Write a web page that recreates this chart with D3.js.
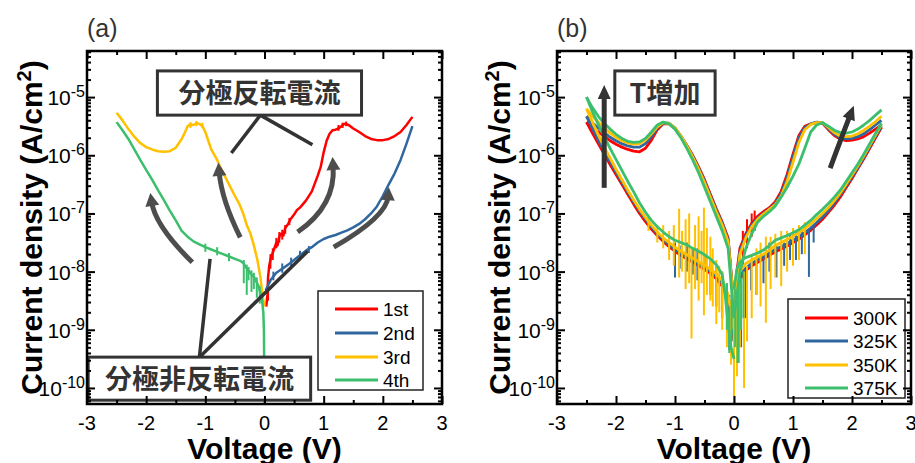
<!DOCTYPE html>
<html><head><meta charset="utf-8">
<script src="https://cdn.jsdelivr.net/npm/d3@7"></script>
<style>
body{margin:0;background:#fff}
svg{display:block}
text{font-family:"Liberation Sans",Arial,sans-serif}
.cjk{font-family:"Noto Sans CJK JP","Noto Sans CJK SC",sans-serif;font-weight:700}
</style>
</head><body>
<svg id="c" width="915" height="463"></svg>
<script>
// ---------------- axes / labels ----------------
const xTicks = [-3, -2, -1, 0, 1, 2, 3];
const xMinorTicks = [-2.5, -1.5, -0.5, 0.5, 1.5, 2.5];
const yTicks = [1e-10, 1e-9, 1e-8, 1e-7, 1e-6, 1e-5];
const yTickExp = ["-10", "-9", "-8", "-7", "-6", "-5"];
const yDomain = [5.3e-11, 6.2e-5];
const xDomain = [-3, 3];
const colors = ["#ff0000", "#30679f", "#ffc000", "#3cbf6c"];
const legendA = ["1st", "2nd", "3rd", "4th"];
const legendB = ["300K", "325K", "350K", "375K"];

// ---------------- panel (a): log10 of current density ----------------
const V_1st = [0.03,0.05,0.06,0.08,0.1,0.13,0.16,0.2,0.22,0.25,0.28,0.32,0.35,0.4,0.44,0.5,0.55,0.6,0.7,0.8,0.9,0.95,1.0,1.05,1.1,1.15,1.2,1.25,1.3,1.35,1.4,1.45,1.5,1.6,1.7,1.8,1.9,2.0,2.1,2.2,2.3,2.4,2.5];
const J_1st = [-8.6,-8.4,-8.1,-7.9,-7.8,-7.7,-7.62,-7.5,-7.55,-7.4,-7.35,-7.38,-7.25,-7.18,-7.1,-7.02,-6.94,-6.9,-6.78,-6.62,-6.35,-6.2,-5.95,-5.75,-5.63,-5.57,-5.56,-5.54,-5.5,-5.46,-5.47,-5.5,-5.54,-5.6,-5.67,-5.72,-5.74,-5.74,-5.72,-5.67,-5.6,-5.48,-5.34];
const V_2nd = [0.02,0.1,0.2,0.3,0.4,0.5,0.6,0.7,0.8,0.9,1.0,1.1,1.2,1.3,1.4,1.5,1.6,1.7,1.8,1.9,2.0,2.1,2.2,2.3,2.4,2.5];
const J_2nd = [-8.32,-8.15,-8.02,-7.95,-7.88,-7.8,-7.72,-7.64,-7.58,-7.5,-7.44,-7.4,-7.37,-7.33,-7.29,-7.24,-7.18,-7.1,-7.0,-6.88,-6.7,-6.5,-6.31,-6.08,-5.8,-5.5];
const V_3rd = [0,-0.03,-0.07,-0.12,-0.18,-0.24,-0.3,-0.36,-0.42,-0.5,-0.6,-0.7,-0.75,-0.8,-0.9,-0.95,-1.0,-1.05,-1.1,-1.15,-1.2,-1.25,-1.3,-1.35,-1.4,-1.5,-1.6,-1.7,-1.8,-1.9,-2.0,-2.1,-2.2,-2.3,-2.4,-2.5];
const J_3rd = [-8.6,-8.43,-8.09,-7.8,-7.55,-7.34,-7.2,-7.0,-6.85,-6.7,-6.5,-6.3,-6.2,-6.08,-5.9,-5.75,-5.6,-5.5,-5.46,-5.45,-5.48,-5.47,-5.5,-5.62,-5.72,-5.87,-5.93,-5.94,-5.93,-5.9,-5.86,-5.79,-5.68,-5.55,-5.4,-5.27];
const V_4th = [0,-0.01,-0.02,-0.04,-0.07,-0.1,-0.15,-0.18,-0.22,-0.27,-0.32,-0.36,-0.4,-0.5,-0.6,-0.7,-0.8,-0.9,-1.0,-1.1,-1.2,-1.3,-1.4,-1.5,-1.6,-1.7,-1.8,-1.9,-2.0,-2.1,-2.2,-2.3,-2.4,-2.5];
const J_4th = [-10.3,-9.0,-8.7,-8.5,-8.37,-8.25,-8.15,-8.09,-8.05,-7.98,-7.92,-7.85,-7.82,-7.78,-7.74,-7.7,-7.66,-7.62,-7.58,-7.53,-7.48,-7.4,-7.3,-7.12,-6.95,-6.77,-6.6,-6.42,-6.25,-6.08,-5.9,-5.72,-5.57,-5.43];
// noise spikes [V, log10 J low, log10 J high]
const spikes_1st = [[0.06,-8.5,-8.1],[0.1,-7.95,-7.7],[0.14,-7.8,-7.6],[0.2,-7.6,-7.42],[0.25,-7.5,-7.32],[0.3,-7.45,-7.28],[0.35,-7.35,-7.2],[0.42,-7.2,-7.08],[1.25,-5.58,-5.48],[1.32,-5.53,-5.44],[1.38,-5.5,-5.42]];
const spikes_2nd = [[0.15,-8.15,-8.0],[0.3,-8.02,-7.86],[0.45,-7.92,-7.76],[0.6,-7.78,-7.64],[0.75,-7.68,-7.56]];
const spikes_3rd = [[-1.25,-5.53,-5.43],[-1.15,-5.5,-5.41],[-1.05,-5.53,-5.44]];
const spikes_4th = [[-0.35,-8.2,-7.8],[-0.3,-8.4,-7.88],[-0.27,-8.15,-7.92],[-0.22,-8.35,-7.98],[-0.18,-8.3,-8.02],[-0.13,-8.45,-8.1],[-0.08,-8.55,-8.25],[-0.6,-7.82,-7.68],[-0.8,-7.72,-7.58],[-1.0,-7.66,-7.52]];

// ---------------- panel (b): log10 of current density ----------------
const V_upNeg = [0,-0.1,-0.2,-0.3,-0.4,-0.5,-0.6,-0.7,-0.8,-0.9,-1.0,-1.1,-1.2,-1.3,-1.4,-1.5,-1.6,-1.7,-1.8,-1.9,-2.0,-2.1,-2.2,-2.3,-2.4,-2.5];
const V_loNeg = [-2.5,-2.4,-2.3,-2.2,-2.1,-2.0,-1.9,-1.8,-1.7,-1.6,-1.5,-1.4,-1.3,-1.2,-1.1,-1.0,-0.9,-0.8,-0.7,-0.6,-0.5,-0.4,-0.3,-0.2,-0.15,-0.1,-0.05,0];
const V_upPos = [0,0.1,0.2,0.3,0.4,0.5,0.6,0.7,0.8,0.9,1.0,1.1,1.2,1.3,1.4,1.5,1.6,1.7,1.8,1.9,2.0,2.1,2.2,2.3,2.4,2.5];
const V_loPos = [2.5,2.4,2.3,2.2,2.1,2.0,1.9,1.8,1.7,1.6,1.5,1.4,1.3,1.2,1.1,1.0,0.9,0.8,0.7,0.6,0.5,0.4,0.3,0.2,0.15,0.1,0.05,0];

const J300_upNeg = [-8.6,-7.42,-7.15,-6.92,-6.67,-6.42,-6.2,-6.0,-5.83,-5.68,-5.54,-5.46,-5.46,-5.56,-5.74,-5.88,-5.94,-5.93,-5.9,-5.86,-5.81,-5.75,-5.67,-5.6,-5.52,-5.43];
const J325_upNeg = [-8.6,-7.45,-7.17,-6.94,-6.69,-6.44,-6.22,-6.01,-5.83,-5.67,-5.53,-5.45,-5.45,-5.53,-5.68,-5.8,-5.86,-5.86,-5.84,-5.8,-5.75,-5.69,-5.61,-5.53,-5.44,-5.33];
const J350_upNeg = [-8.6,-7.48,-7.2,-6.97,-6.72,-6.47,-6.24,-6.03,-5.84,-5.67,-5.53,-5.45,-5.44,-5.51,-5.63,-5.74,-5.8,-5.81,-5.79,-5.75,-5.69,-5.62,-5.53,-5.43,-5.33,-5.2];
const J375_upNeg = [-8.8,-7.6,-7.3,-7.05,-6.8,-6.55,-6.3,-6.08,-5.88,-5.7,-5.55,-5.46,-5.43,-5.48,-5.6,-5.71,-5.77,-5.78,-5.76,-5.71,-5.64,-5.55,-5.45,-5.33,-5.18,-5.0];

const J300_loNeg = [-5.43,-5.62,-5.8,-5.98,-6.16,-6.33,-6.5,-6.67,-6.84,-7.0,-7.14,-7.27,-7.38,-7.48,-7.57,-7.65,-7.72,-7.78,-7.84,-7.9,-7.96,-8.03,-8.12,-8.25,-8.35,-8.5,-8.8,-9.2];
const J325_loNeg = [-5.33,-5.54,-5.74,-5.93,-6.11,-6.29,-6.46,-6.63,-6.8,-6.96,-7.1,-7.23,-7.35,-7.45,-7.54,-7.62,-7.69,-7.75,-7.81,-7.87,-7.93,-8.0,-8.08,-8.2,-8.3,-8.45,-8.75,-9.1];
const J350_loNeg = [-5.2,-5.43,-5.65,-5.86,-6.05,-6.24,-6.42,-6.6,-6.77,-6.93,-7.07,-7.2,-7.32,-7.42,-7.5,-7.58,-7.65,-7.71,-7.77,-7.83,-7.89,-7.96,-8.04,-8.15,-8.25,-8.4,-8.7,-9.0];
const J375_loNeg = [-5.0,-5.25,-5.47,-5.68,-5.88,-6.07,-6.26,-6.45,-6.63,-6.82,-6.98,-7.12,-7.23,-7.32,-7.4,-7.46,-7.5,-7.54,-7.6,-7.65,-7.71,-7.78,-7.88,-8.05,-8.4,-8.9,-9.3,-9.5];

const J300_upPos = [-8.4,-7.6,-7.35,-7.17,-7.05,-6.97,-6.9,-6.8,-6.62,-6.33,-5.98,-5.66,-5.5,-5.46,-5.44,-5.45,-5.56,-5.66,-5.72,-5.75,-5.74,-5.72,-5.68,-5.62,-5.55,-5.48];
const J325_upPos = [-8.5,-7.65,-7.38,-7.2,-7.08,-7.0,-6.92,-6.83,-6.66,-6.38,-6.03,-5.7,-5.52,-5.46,-5.43,-5.44,-5.54,-5.64,-5.7,-5.72,-5.71,-5.68,-5.63,-5.56,-5.48,-5.4];
const J350_upPos = [-8.6,-7.7,-7.42,-7.23,-7.1,-7.01,-6.93,-6.85,-6.7,-6.45,-6.12,-5.78,-5.56,-5.47,-5.44,-5.44,-5.52,-5.61,-5.67,-5.68,-5.67,-5.63,-5.57,-5.5,-5.42,-5.33];
const J375_upPos = [-8.8,-8.0,-7.6,-7.35,-7.15,-7.05,-6.97,-6.87,-6.72,-6.55,-6.36,-6.15,-5.88,-5.6,-5.48,-5.44,-5.5,-5.57,-5.61,-5.62,-5.6,-5.55,-5.48,-5.4,-5.31,-5.22];

const J300_loPos = [-5.52,-5.7,-5.88,-6.06,-6.23,-6.4,-6.56,-6.72,-6.86,-6.98,-7.1,-7.2,-7.29,-7.37,-7.44,-7.5,-7.56,-7.61,-7.66,-7.72,-7.78,-7.84,-7.9,-7.98,-8.05,-8.15,-8.35,-8.7];
const J325_loPos = [-5.5,-5.68,-5.86,-6.04,-6.21,-6.37,-6.53,-6.68,-6.82,-6.95,-7.06,-7.16,-7.25,-7.33,-7.4,-7.46,-7.52,-7.57,-7.62,-7.68,-7.74,-7.8,-7.86,-7.94,-8.0,-8.1,-8.3,-8.6];
const J350_loPos = [-5.47,-5.65,-5.83,-6.01,-6.18,-6.34,-6.5,-6.65,-6.78,-6.9,-7.0,-7.09,-7.18,-7.26,-7.33,-7.39,-7.45,-7.5,-7.55,-7.63,-7.7,-7.75,-7.8,-7.86,-7.92,-8.0,-8.2,-8.5];
const J375_loPos = [-5.45,-5.62,-5.8,-5.98,-6.15,-6.3,-6.45,-6.6,-6.72,-6.83,-6.93,-7.02,-7.12,-7.2,-7.28,-7.33,-7.38,-7.42,-7.46,-7.55,-7.63,-7.68,-7.72,-7.76,-7.79,-7.84,-7.95,-8.3];

const spikes_300K = [[-0.05,-9.0,-8.5],[0.0,-10.3,-8.6],[0.05,-9.0,-8.3],[0.15,-7.9,-7.3],[0.22,-7.6,-7.1],[0.3,-7.4,-7.0],[0.35,-7.3,-6.95]];
const spikes_325K = [[-1.0,-8.1,-7.5],[-0.92,-7.95,-7.55],[-0.8,-8.0,-7.5],[-0.7,-8.05,-7.6],[-0.62,-8.15,-7.6],[-0.5,-8.0,-7.7],[-0.4,-8.4,-7.8],[-0.3,-8.6,-7.9],[-0.2,-8.8,-8.0],[-0.12,-9.0,-8.2],[-0.08,-9.35,-8.4],[-0.03,-9.0,-8.5],[0.05,-9.2,-8.4],[0.12,-9.3,-8.2],[0.2,-8.8,-8.0],[0.29,-8.32,-7.9],[0.38,-8.4,-7.8],[0.5,-8.2,-7.7],[0.6,-8.0,-7.5],[0.72,-8.1,-7.55],[0.85,-7.9,-7.5],[0.95,-7.8,-7.35],[1.05,-7.8,-7.3],[1.15,-7.7,-7.3],[1.27,-8.09,-7.3],[1.35,-7.5,-7.2]];
const spikes_350K = [[-1.45,-7.3,-7.05],[-1.3,-7.5,-7.2],[-1.2,-7.6,-7.2],[-1.1,-7.8,-7.3],[-1.02,-7.9,-7.2],[-0.93,-8.1,-6.92],[-0.88,-8.0,-7.3],[-0.82,-8.3,-7.1],[-0.76,-8.2,-7.0],[-0.72,-9.15,-7.6],[-0.66,-8.3,-7.2],[-0.6,-8.5,-7.05],[-0.55,-8.2,-7.3],[-0.51,-8.75,-6.9],[-0.46,-8.4,-7.25],[-0.4,-8.5,-7.4],[-0.36,-8.6,-7.6],[-0.3,-8.9,-7.8],[-0.25,-8.7,-7.9],[-0.2,-9.0,-8.0],[-0.12,-9.3,-8.2],[-0.05,-9.6,-8.5],[0.0,-10.3,-8.6],[0.05,-9.8,-8.4],[0.1,-9.3,-8.2],[0.17,-10.0,-8.0],[0.22,-9.2,-7.9],[0.3,-8.8,-7.7],[0.38,-8.4,-7.6],[0.45,-8.6,-7.5],[0.54,-8.88,-7.4],[0.62,-8.3,-7.4],[0.7,-8.1,-7.35],[0.8,-8.25,-7.3],[0.9,-8.0,-7.3],[1.0,-7.9,-7.25],[1.1,-7.8,-7.2],[1.2,-7.7,-7.15]];
const spikes_375K = [[-0.12,-9.0,-8.2],[-0.08,-9.4,-8.6],[-0.04,-9.2,-8.4],[0.02,-9.3,-8.3],[0.06,-9.57,-8.5],[0.08,-9.57,-8.2],[0.12,-9.0,-8.1],[0.16,-8.8,-8.0]];

// ---------------- annotations (data coordinates: V, log10 J) ----------------
const arrowsA = [
  [[-1.22,-7.84],[-1.71,-7.23],[-1.93,-6.65]],
  [[-0.41,-7.41],[-0.66,-6.77],[-0.78,-6.13]],
  [[0.56,-7.32],[1.03,-6.77],[1.15,-6.03]],
  [[1.17,-7.58],[1.85,-7.06],[2.1,-6.55]]
];
const arrowsB = [
  [[-2.2,-6.56],[-2.2,-5.7],[-2.2,-4.79]],
  [[1.63,-6.22],[1.83,-5.68],[2.03,-5.15]]
];
const boxesA = [
  {text:"分極反転電流", v0:-1.81, v1:1.64, j0:-5.31, j1:-4.55,
   from:[-0.07,-5.31], to:[[-0.56,-5.96],[0.81,-5.82]]},
  {text:"分極非反転電流", v0:-2.98, v1:0.78, j0:-10.21, j1:-9.47,
   from:[-1.1,-9.47], to:[[-0.92,-7.78],[0.73,-7.65]]}
];
const boxesB = [
  {text:"T増加", v0:-2.02, v1:-0.32, j0:-5.31, j1:-4.55, from:null, to:[]}
];

// ---------------- drawing ----------------
const svg = d3.select("#c");
const P10 = v => Math.pow(10, v);

function makePanel(L, R, T, B, id, ylabX, tag) {
  const x = d3.scaleLinear().domain(xDomain).range([L, R]);
  const y = d3.scaleLog().domain(yDomain).range([B, T]);
  const g = svg.append("g");
  svg.append("clipPath").attr("id", id).append("rect")
    .attr("x", L).attr("y", T).attr("width", R - L).attr("height", B - T);
  const plot = g.append("g").attr("clip-path", `url(#${id})`);
  const top = g.append("g");
  g.append("text").attr("x", L).attr("y", 37).attr("fill", "#333")
    .style("font-size", "25px").text(tag);
  const minorY = y.ticks().filter(v => !yTicks.some(t => Math.abs(Math.log10(v) - Math.log10(t)) < 1e-6));
  const axes = [
    [d3.axisBottom(x).tickValues(xTicks).tickSize(-8), `translate(0,${B})`],
    [d3.axisBottom(x).tickValues(xMinorTicks).tickSize(-4), `translate(0,${B})`],
    [d3.axisTop(x).tickValues(xTicks).tickSize(-8), `translate(0,${T})`],
    [d3.axisTop(x).tickValues(xMinorTicks).tickSize(-4), `translate(0,${T})`],
    [d3.axisLeft(y).tickValues(yTicks).tickSize(-8), `translate(${L},0)`],
    [d3.axisLeft(y).tickValues(minorY).tickSize(-4), `translate(${L},0)`],
    [d3.axisRight(y).tickValues(yTicks).tickSize(-8), `translate(${R},0)`],
    [d3.axisRight(y).tickValues(minorY).tickSize(-4), `translate(${R},0)`]
  ];
  const axG = g.append("g");
  axes.forEach(([ax, tr]) => {
    const a = axG.append("g").attr("transform", tr).call(ax.tickFormat(""));
    a.select(".domain").remove();
    a.selectAll("line").attr("stroke", "#000").attr("stroke-width", 2);
  });
  xTicks.forEach(t => {
    g.append("text").attr("x", x(t)).attr("y", 430).attr("text-anchor", "middle")
      .style("font-size", "20px").text(t < 0 ? "-" + Math.abs(t) : String(t));
  });
  yTicks.forEach((t, i) => {
    const tx = g.append("text").attr("x", L - 2).attr("y", y(t) + 8)
      .attr("text-anchor", "end").style("font-size", "21px");
    tx.append("tspan").text("10");
    tx.append("tspan").attr("dy", -8).style("font-size", "16px").text(yTickExp[i]);
  });
  g.append("rect").attr("x", L).attr("y", T).attr("width", R - L).attr("height", B - T)
    .attr("fill", "none").attr("stroke", "#000").attr("stroke-width", 2.5);
  g.append("text").attr("x", (L + R) / 2).attr("y", 459).attr("text-anchor", "middle")
    .style("font-size", "30px").style("font-weight", "bold").text("Voltage (V)");
  const yl = g.append("text").attr("transform", `translate(${ylabX},${(T + B) / 2}) rotate(-90)`)
    .attr("text-anchor", "middle").style("font-size", "30px").style("font-weight", "bold");
  yl.append("tspan").text("Current density (A/cm");
  yl.append("tspan").attr("dy", -11).style("font-size", "20px").text("2");
  yl.append("tspan").attr("dy", 11).text(")");
  return {x, y, g, plot, top};
}

function drawCurve(p, V, J, color, w) {
  const line = d3.line().x(d => p.x(d[0])).y(d => p.y(P10(d[1])));
  p.plot.append("path").datum(d3.zip(V, J)).attr("d", line)
    .attr("fill", "none").attr("stroke", color).attr("stroke-width", w)
    .attr("stroke-linejoin", "round");
}
function drawSpikes(p, S, color, w) {
  p.plot.selectAll(null).data(S).enter().append("line")
    .attr("x1", d => p.x(d[0])).attr("x2", d => p.x(d[0]))
    .attr("y1", d => p.y(P10(d[1]))).attr("y2", d => p.y(P10(d[2])))
    .attr("stroke", color).attr("stroke-width", w);
}
function drawArrow(p, a, col, sw, hl, hw) {
  const Pt = a.map(d => [p.x(d[0]), p.y(P10(d[1]))]);
  const [Ta, M, E] = Pt;
  const C = [2 * M[0] - (Ta[0] + E[0]) / 2, 2 * M[1] - (Ta[1] + E[1]) / 2];
  let dx = E[0] - C[0], dy = E[1] - C[1];
  const Ln = Math.hypot(dx, dy); dx /= Ln; dy /= Ln;
  const S = [E[0] - dx * hl * 0.7, E[1] - dy * hl * 0.7];
  p.top.append("path").attr("d", `M${Ta[0]},${Ta[1]}Q${C[0]},${C[1]} ${S[0]},${S[1]}`)
    .attr("fill", "none").attr("stroke", col).attr("stroke-width", sw);
  const Bp = [E[0] - dx * hl, E[1] - dy * hl], nx = -dy, ny = dx;
  p.top.append("path")
    .attr("d", `M${E[0]},${E[1]}L${Bp[0] + nx * hw / 2},${Bp[1] + ny * hw / 2}L${Bp[0] - nx * hw / 2},${Bp[1] - ny * hw / 2}Z`)
    .attr("fill", col);
}
function drawBox(p, b) {
  if (b.from) {
    b.to.forEach(t => {
      p.top.append("line")
        .attr("x1", p.x(b.from[0])).attr("y1", p.y(P10(b.from[1])))
        .attr("x2", p.x(t[0])).attr("y2", p.y(P10(t[1])))
        .attr("stroke", "#333").attr("stroke-width", 3.5);
    });
  }
  const x0 = p.x(b.v0), x1 = p.x(b.v1), y0 = p.y(P10(b.j1)), y1 = p.y(P10(b.j0));
  p.top.append("rect").attr("x", x0).attr("y", y0).attr("width", x1 - x0).attr("height", y1 - y0)
    .attr("fill", "#fff").attr("stroke", "#333").attr("stroke-width", 3);
  p.top.append("text").attr("class", "cjk").attr("x", (x0 + x1) / 2).attr("y", (y0 + y1) / 2 + 10)
    .attr("text-anchor", "middle").attr("fill", "#333").style("font-size", "27px").text(b.text);
}
function drawLegend(p, bx, by, bw, bh, names, rows) {
  p.top.append("rect").attr("x", bx).attr("y", by).attr("width", bw).attr("height", bh)
    .attr("fill", "#fff").attr("stroke", "#222").attr("stroke-width", 1.5);
  names.forEach((n, i) => {
    const yy = rows[i];
    p.top.append("line").attr("x1", bx + 17).attr("x2", bx + 60).attr("y1", yy).attr("y2", yy)
      .attr("stroke", colors[i]).attr("stroke-width", 3);
    p.top.append("text").attr("x", bx + 65).attr("y", yy + 7).style("font-size", "19px").text(n);
  });
}

// panel (a)
const pa = makePanel(87, 442, 51, 404, "clipA", 42, "(a)");
drawCurve(pa, V_1st, J_1st, colors[0], 2.5); drawSpikes(pa, spikes_1st, colors[0], 2);
drawCurve(pa, V_2nd, J_2nd, colors[1], 2.5); drawSpikes(pa, spikes_2nd, colors[1], 2);
drawCurve(pa, V_3rd, J_3rd, colors[2], 2.5); drawSpikes(pa, spikes_3rd, colors[2], 2);
drawCurve(pa, V_4th, J_4th, colors[3], 2.5); drawSpikes(pa, spikes_4th, colors[3], 2);
arrowsA.forEach(a => drawArrow(pa, a, "#4d4d4d", 5, 13, 14));
boxesA.forEach(b => drawBox(pa, b));
drawLegend(pa, 318, 291, 105, 99, legendA, [309, 333, 357, 380]);

// panel (b)
const pb = makePanel(557, 911, 51, 404, "clipB", 510, "(b)");
const bSets = [
  [J300_upNeg, J300_loNeg, J300_upPos, J300_loPos, spikes_300K],
  [J325_upNeg, J325_loNeg, J325_upPos, J325_loPos, spikes_325K],
  [J350_upNeg, J350_loNeg, J350_upPos, J350_loPos, spikes_350K],
  [J375_upNeg, J375_loNeg, J375_upPos, J375_loPos, spikes_375K]
];
bSets.forEach((s, i) => {
  drawSpikes(pb, s[4], colors[i], 2);
  drawCurve(pb, V_upNeg, s[0], colors[i], 2.8);
  drawCurve(pb, V_loNeg, s[1], colors[i], 2.8);
  drawCurve(pb, V_upPos, s[2], colors[i], 2.8);
  drawCurve(pb, V_loPos, s[3], colors[i], 2.8);
});
arrowsB.forEach(a => drawArrow(pb, a, "#333", 5, 14, 13));
boxesB.forEach(b => drawBox(pb, b));
drawLegend(pb, 788, 299, 117, 99, legendB, [318, 341, 365, 388]);
</script>
</body></html>
